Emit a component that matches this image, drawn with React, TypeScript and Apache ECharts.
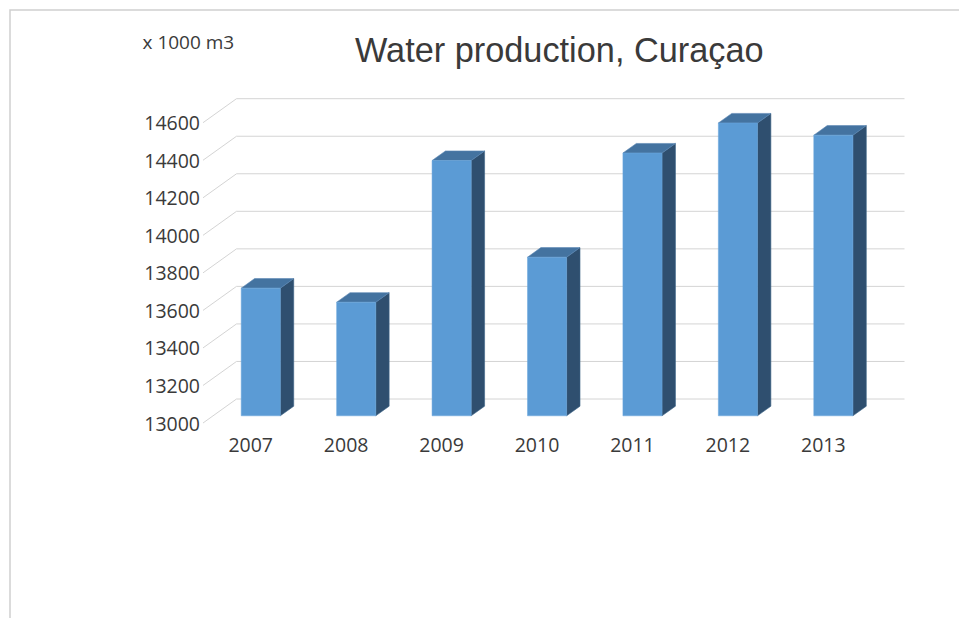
import React, { useEffect, useRef } from "react";
import * as echarts from "echarts";

const categories = ["2007", "2008", "2009", "2010", "2011", "2012", "2013"];
const production = [13680, 13605, 14360, 13845, 14400, 14560, 14495];
const yTicks = [13000, 13200, 13400, 13600, 13800, 14000, 14200, 14400, 14600];
const titleText = "Water production, Curaçao";
const unitText = "x 1000 m3";

// 3D projection constants (depth of the plot floor)
const DEPTH_DX = 33.5;
const DEPTH_DY = -24;
const BAR_FRONT = 0.3;
const BAR_BACK = 0.7;
const BAR_WIDTH_RATIO = 0.41;

const TEXT_COLOR = "#3a3a3a";
const GRID_COLOR = "#d4d4d4";

export default function App() {
  const ref = useRef<HTMLDivElement>(null);

  useEffect(() => {
    if (!ref.current) return;
    const chart = echarts.init(ref.current, null, { renderer: "svg" });
    const font = "'Open Sans', sans-serif";

    const option: any = {
      animation: false,
      backgroundColor: "#ffffff",
      title: {
        text: titleText,
        left: 350,
        top: 28,
        textStyle: {
          fontFamily: "'Liberation Sans', Arial, sans-serif",
          fontSize: 34.3,
          fontWeight: "normal",
          color: TEXT_COLOR,
        },
      },
      graphic: [
        {
          type: "rect",
          shape: { x: 10, y: 10, width: 1000, height: 700 },
          style: { fill: "none", stroke: "#d0d0d0", lineWidth: 1.5 },
          silent: true,
        },
        {
          type: "text",
          x: 142.5,
          y: 42,
          style: {
            text: unitText,
            fontFamily: font,
            fontSize: 19,
            fill: TEXT_COLOR,
            textVerticalAlign: "middle",
          },
        },
      ],
      grid: {
        left: 203,
        right: 88,
        top: 122.7,
        bottom: 618 - 423,
        containLabel: false,
      },
      xAxis: {
        type: "category",
        data: categories,
        boundaryGap: true,
        axisLine: { show: false },
        axisTick: { show: false },
        splitLine: { show: false },
        axisLabel: {
          margin: 11,
          fontFamily: font,
          fontSize: 19.5,
          color: TEXT_COLOR,
        },
      },
      yAxis: {
        type: "value",
        min: 13000,
        max: 14600,
        interval: 200,
        axisLine: { show: false },
        axisTick: { show: false },
        splitLine: { show: false },
        axisLabel: {
          margin: 3,
          fontFamily: font,
          fontSize: 19.5,
          color: TEXT_COLOR,
          formatter: (v: number) => String(v),
        },
      },
      series: [
        {
          type: "custom",
          name: "walls",
          clip: false,
          silent: true,
          z: 1,
          data: yTicks.map((v) => [0, v]),
          renderItem: (params: any, api: any) => {
            const cs = params.coordSys;
            const y = api.coord([0, api.value(1)])[1];
            const left = cs.x;
            const right = cs.x + cs.width;
            return {
              type: "group",
              children: [
                {
                  type: "line",
                  shape: { x1: left, y1: y, x2: left + DEPTH_DX, y2: y + DEPTH_DY },
                  style: { stroke: GRID_COLOR, lineWidth: 1 },
                },
                {
                  type: "line",
                  shape: {
                    x1: left + DEPTH_DX,
                    y1: y + DEPTH_DY,
                    x2: right + DEPTH_DX,
                    y2: y + DEPTH_DY,
                  },
                  style: { stroke: GRID_COLOR, lineWidth: 1 },
                },
              ],
            };
          },
        },
        {
          type: "custom",
          name: "Water production",
          clip: false,
          z: 2,
          data: production.map((v, i) => [i, v]),
          renderItem: (params: any, api: any) => {
            const idx = api.value(0);
            const val = api.value(1);
            const base = api.coord([idx, 13000]);
            const top = api.coord([idx, val]);
            const bw = api.size([1, 0])[0] * BAR_WIDTH_RATIO;
            const fx = DEPTH_DX * BAR_FRONT;
            const fy = DEPTH_DY * BAR_FRONT;
            const ddx = DEPTH_DX * (BAR_BACK - BAR_FRONT);
            const ddy = DEPTH_DY * (BAR_BACK - BAR_FRONT);
            const xl = base[0] + fx - bw / 2;
            const xr = base[0] + fx + bw / 2;
            const yt = top[1] + fy;
            const yb = base[1] + fy;
            return {
              type: "group",
              children: [
                {
                  type: "polygon",
                  shape: {
                    points: [
                      [xr, yt],
                      [xr + ddx, yt + ddy],
                      [xr + ddx, yb + ddy],
                      [xr, yb],
                    ],
                  },
                  style: { fill: "#2f4f6f", stroke: "#3d6488", lineWidth: 0.6 },
                },
                {
                  type: "polygon",
                  shape: {
                    points: [
                      [xl, yt],
                      [xl + ddx, yt + ddy],
                      [xr + ddx, yt + ddy],
                      [xr, yt],
                    ],
                  },
                  style: { fill: "#4473a0", stroke: "#5b87b3", lineWidth: 0.6 },
                },
                {
                  type: "rect",
                  shape: { x: xl, y: yt, width: xr - xl, height: yb - yt },
                  style: { fill: "#5b9bd5", stroke: "#6aa6dc", lineWidth: 0.5 },
                },
              ],
            };
          },
        },
      ],
    };

    chart.setOption(option);
    return () => chart.dispose();
  }, []);

  return (
    <div
      ref={ref}
      style={{ position: "fixed", left: 0, top: 0, width: 959, height: 618 }}
    />
  );
}
